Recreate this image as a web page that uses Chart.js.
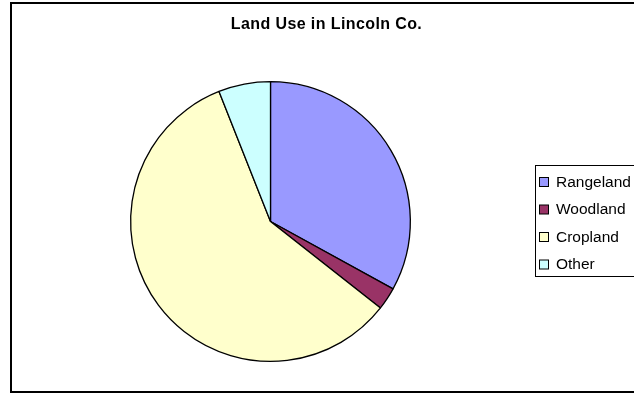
<!DOCTYPE html>
<html>
<head>
<meta charset="utf-8">
<script src="https://cdn.jsdelivr.net/npm/chart.js@4"></script>
<style>
html,body{margin:0;padding:0;background:#fff;}
#wrap{width:634px;height:394px;position:relative;}
</style>
</head>
<body>
<div id="wrap"><canvas id="c" width="634" height="394"></canvas></div>
<script>
const title = "Land Use in Lincoln Co.";
const categories = ["Rangeland", "Woodland", "Cropland", "Other"];
const values = [33.0, 2.6, 58.4, 6.0];
const colors = ["#9999FF", "#993366", "#FFFFCC", "#CCFFFF"];

const decor = {
  id: 'decor',
  beforeDraw(chart) {
    const ctx = chart.ctx;
    ctx.save();
    ctx.fillStyle = '#fff';
    ctx.fillRect(0, 0, chart.width, chart.height);
    ctx.restore();
  },
  afterDraw(chart) {
    const ctx = chart.ctx;
    ctx.save();
    // outer frame
    ctx.strokeStyle = '#000';
    ctx.lineWidth = 2;
    ctx.strokeRect(11, 3, 700, 389);
    // title
    ctx.fillStyle = '#000';
    ctx.font = 'bold 16px "Liberation Sans", Arial, sans-serif';
    ctx.letterSpacing = '0.4px';
    ctx.textAlign = 'center';
    ctx.textBaseline = 'middle';
    ctx.fillText(title, 326.5, 25);
    // legend
    ctx.lineWidth = 1;
    ctx.strokeRect(535.5, 165.5, 200, 111);
    const labels = chart.data.labels;
    const bg = chart.data.datasets[0].backgroundColor;
    ctx.font = '15.5px "Liberation Sans", Arial, sans-serif';
    ctx.letterSpacing = '0px';
    ctx.textAlign = 'left';
    labels.forEach((lab, i) => {
      const y = 182 + i * 27.5;
      ctx.fillStyle = bg[i];
      ctx.fillRect(539.5, y - 4.5, 9, 9);
      ctx.strokeStyle = '#000';
      ctx.strokeRect(539.5, y - 4.5, 9, 9);
      ctx.fillStyle = '#000';
      ctx.fillText(lab, 556, y + 0.5);
    });
    ctx.restore();
  }
};

new Chart(document.getElementById('c'), {
  type: 'pie',
  data: {
    labels: categories,
    datasets: [{
      data: values,
      backgroundColor: colors,
      borderColor: '#000',
      borderWidth: 1.3,
      hoverOffset: 0
    }]
  },
  options: {
    responsive: false,
    animation: false,
    events: [],
    layout: { padding: { left: 130, right: 223, top: 81, bottom: 32 } },
    plugins: {
      legend: { display: false },
      title: { display: false },
      tooltip: { enabled: false }
    }
  },
  plugins: [decor]
});
</script>
</body>
</html>
